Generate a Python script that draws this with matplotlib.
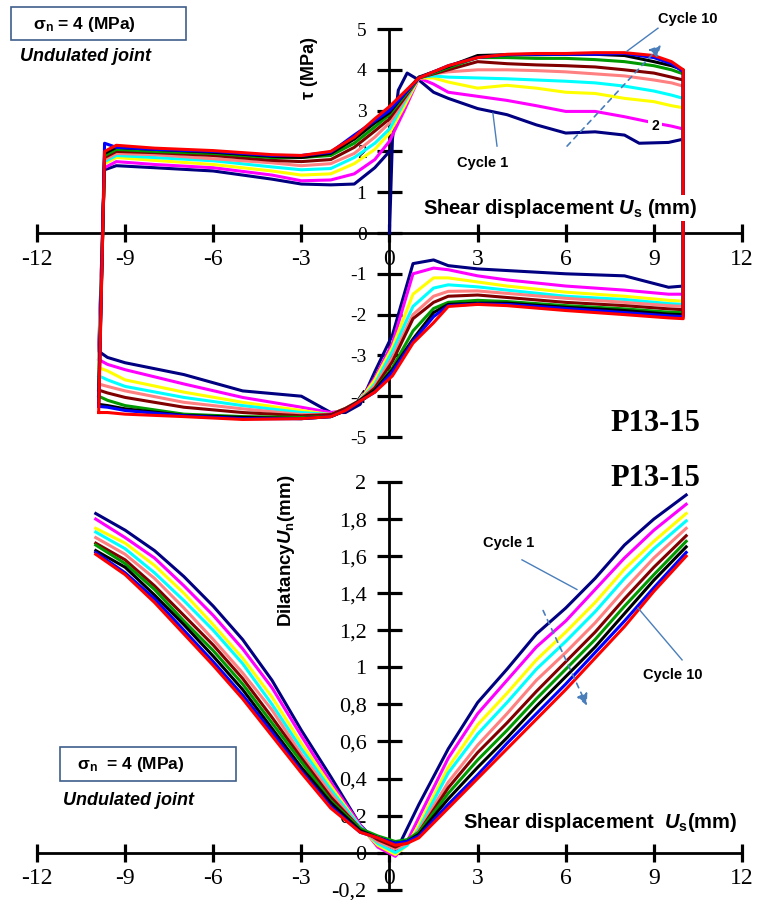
import matplotlib
matplotlib.use('Agg')
import matplotlib.pyplot as plt
from matplotlib.patches import Rectangle
from matplotlib.ticker import FuncFormatter

plt.rcParams['axes.unicode_minus'] = False
plt.rcParams['font.family'] = 'Liberation Serif'
plt.rcParams['mathtext.fontset'] = 'custom'
plt.rcParams['mathtext.it'] = 'Liberation Sans:bold:italic'
plt.rcParams['mathtext.rm'] = 'Liberation Sans:bold'

# cycle colours (cycle 1 .. cycle 10)
colors = ['#000080', '#FF00FF', '#FFFF00', '#00FFFF', '#FF8080',
          '#800000', '#009900', '#000000', '#0000FF', '#FF0000']

# ---- shear stress, first loading of cycle 1 (from origin)
first_x = [0, 0.1, 0.3, 0.6, 1, 1.5, 2, 3, 4, 5, 6, 7, 8, 8.5, 9.5, 10]
first_y = [0, 2.3, 3.5, 3.92, 3.75, 3.45, 3.3, 3.05, 2.9, 2.65, 2.45, 2.48, 2.4, 2.2, 2.22, 2.3]

# ---- shear stress, forward branch (tau > 0)
up_x = [-9.7, -9.3, -8, -6, -4, -3, -2, -1.2, -0.5, 0, 0.5, 1, 1.5, 2, 3, 4, 5, 6, 7, 8, 9, 9.6, 10]
tau_up = [
    [1.55, 1.65, 1.6, 1.52, 1.32, 1.2, 1.18, 1.2, 1.6, 2.0],
    [1.6, 1.75, 1.68, 1.6, 1.42, 1.28, 1.3, 1.45, 1.8, 2.25, 3.0, 3.8, 3.65, 3.45, 3.35, 3.25, 3.12, 2.98, 2.98, 2.85, 2.7, 2.62, 2.55],
    [1.7, 1.85, 1.78, 1.68, 1.52, 1.42, 1.45, 1.7, 2.05, 2.45, 3.1, 3.8, 3.8, 3.7, 3.55, 3.62, 3.55, 3.45, 3.42, 3.3, 3.22, 3.12, 3.07],
    [1.75, 1.9, 1.85, 1.77, 1.62, 1.55, 1.58, 1.85, 2.2, 2.55, 3.2, 3.82, 3.85, 3.82, 3.8, 3.78, 3.75, 3.72, 3.68, 3.6, 3.48, 3.38, 3.3],
    [1.8, 1.95, 1.92, 1.82, 1.72, 1.65, 1.7, 1.95, 2.35, 2.7, 3.25, 3.82, 3.9, 3.95, 4.0, 4.0, 3.98, 3.95, 3.9, 3.85, 3.75, 3.68, 3.6],
    [1.85, 2.0, 1.97, 1.9, 1.78, 1.75, 1.8, 2.1, 2.5, 2.8, 3.3, 3.8, 3.9, 4.0, 4.2, 4.15, 4.12, 4.1, 4.07, 4.0, 3.92, 3.82, 3.75],
    [1.9, 2.05, 2.0, 1.95, 1.85, 1.85, 1.9, 2.2, 2.6, 2.9, 3.35, 3.8, 3.92, 4.05, 4.3, 4.3, 4.28, 4.28, 4.25, 4.2, 4.1, 4.0, 3.9],
    [1.95, 2.1, 2.05, 1.98, 1.88, 1.85, 1.95, 2.3, 2.7, 2.95, 3.4, 3.82, 3.95, 4.08, 4.35, 4.37, 4.37, 4.38, 4.38, 4.35, 4.2, 4.1, 4.0],
    [2.2, 2.1, 2.05, 2.0, 1.9, 1.9, 1.98, 2.4, 2.75, 3.0, 3.4, 3.8, 3.95, 4.1, 4.3, 4.37, 4.38, 4.38, 4.38, 4.4, 4.3, 4.15, 3.95],
    [2.0, 2.15, 2.08, 2.02, 1.92, 1.9, 2.0, 2.35, 2.8, 3.1, 3.45, 3.8, 3.95, 4.1, 4.3, 4.38, 4.4, 4.4, 4.42, 4.42, 4.35, 4.2, 4.0],
]

# ---- shear stress, backward branch (tau < 0), read from +10 to -10
low_x = [10, 9.5, 8, 6, 4, 3, 2, 1.5, 0.8, 0.1, -0.5, -1, -1.5, -2, -3, -5, -7, -9, -9.6, -9.9]
tau_low = [
    [-1.3, -1.33, -1.05, -1.0, -0.92, -0.88, -0.8, -0.66, -0.75, -2.5, -3.4, -4.2, -4.4, -4.4, -4.0, -3.87, -3.47, -3.18, -3.05, -2.9],
    [-1.5, -1.5, -1.4, -1.3, -1.15, -1.05, -0.9, -0.86, -1.0, -2.7, -3.55, -4.1, -4.35, -4.4, -4.27, -4.03, -3.7, -3.35, -3.22, -3.1],
    [-1.67, -1.65, -1.55, -1.45, -1.3, -1.2, -1.1, -1.1, -1.5, -2.8, -3.6, -4.1, -4.3, -4.45, -4.35, -4.15, -3.9, -3.6, -3.38, -3.3],
    [-1.75, -1.73, -1.63, -1.55, -1.4, -1.32, -1.27, -1.35, -1.8, -2.9, -3.7, -4.1, -4.3, -4.45, -4.4, -4.23, -4.03, -3.76, -3.6, -3.5],
    [-1.8, -1.78, -1.7, -1.6, -1.48, -1.42, -1.43, -1.55, -2.0, -3.05, -3.75, -4.1, -4.3, -4.45, -4.45, -4.31, -4.15, -3.87, -3.76, -3.7],
    [-1.88, -1.86, -1.78, -1.7, -1.58, -1.52, -1.55, -1.7, -2.1, -3.15, -3.8, -4.1, -4.3, -4.45, -4.48, -4.4, -4.27, -4.03, -3.92, -3.85],
    [-1.95, -1.94, -1.86, -1.78, -1.68, -1.65, -1.7, -1.85, -2.4, -3.3, -3.85, -4.1, -4.35, -4.5, -4.52, -4.5, -4.44, -4.23, -4.1, -4.0],
    [-2.0, -1.99, -1.9, -1.82, -1.72, -1.72, -1.75, -1.95, -2.6, -3.35, -3.85, -4.1, -4.35, -4.5, -4.55, -4.52, -4.47, -4.31, -4.23, -4.2],
    [-2.05, -2.03, -1.95, -1.85, -1.75, -1.74, -1.78, -2.05, -2.65, -3.4, -3.9, -4.12, -4.35, -4.5, -4.55, -4.55, -4.48, -4.35, -4.27, -4.25],
    [-2.1, -2.08, -2.0, -1.9, -1.78, -1.75, -1.8, -2.2, -2.7, -3.5, -3.9, -4.12, -4.35, -4.5, -4.55, -4.57, -4.5, -4.44, -4.4, -4.4],
]

# ---- dilatancy
dil_x = [-10, -9, -8, -7, -6, -5, -4, -3, -2, -1, -0.4, 0.2, 0.6, 1, 2, 3, 4, 5, 6, 7, 8, 9, 10.1]
dil_y = [
    [1.83, 1.74, 1.63, 1.49, 1.33, 1.15, 0.93, 0.66, 0.41, 0.15, 0.05, 0.0, 0.13, 0.26, 0.56, 0.81, 0.99, 1.18, 1.32, 1.48, 1.66, 1.80, 1.93],
    [1.80, 1.70, 1.59, 1.44, 1.28, 1.10, 0.89, 0.63, 0.38, 0.15, 0.03, -0.02, 0.06, 0.19, 0.51, 0.75, 0.93, 1.11, 1.25, 1.42, 1.59, 1.74, 1.88],
    [1.75, 1.67, 1.55, 1.40, 1.23, 1.05, 0.84, 0.59, 0.36, 0.14, 0.04, -0.01, 0.04, 0.15, 0.46, 0.69, 0.86, 1.04, 1.19, 1.35, 1.53, 1.68, 1.83],
    [1.73, 1.64, 1.51, 1.36, 1.20, 1.02, 0.80, 0.56, 0.34, 0.14, 0.05, 0.0, 0.04, 0.13, 0.43, 0.64, 0.81, 0.99, 1.14, 1.30, 1.48, 1.64, 1.79],
    [1.70, 1.61, 1.48, 1.32, 1.15, 0.97, 0.77, 0.53, 0.32, 0.13, 0.06, 0.02, 0.05, 0.12, 0.38, 0.58, 0.75, 0.93, 1.08, 1.24, 1.42, 1.59, 1.75],
    [1.67, 1.58, 1.44, 1.28, 1.12, 0.94, 0.73, 0.51, 0.30, 0.13, 0.07, 0.03, 0.06, 0.11, 0.35, 0.54, 0.70, 0.87, 1.03, 1.19, 1.37, 1.54, 1.71],
    [1.66, 1.56, 1.42, 1.25, 1.09, 0.91, 0.70, 0.49, 0.28, 0.13, 0.09, 0.06, 0.07, 0.11, 0.32, 0.50, 0.66, 0.83, 0.99, 1.15, 1.33, 1.50, 1.68],
    [1.63, 1.54, 1.39, 1.23, 1.06, 0.88, 0.67, 0.46, 0.27, 0.12, 0.08, 0.05, 0.06, 0.10, 0.29, 0.46, 0.62, 0.79, 0.95, 1.11, 1.29, 1.47, 1.65],
    [1.62, 1.51, 1.37, 1.20, 1.03, 0.85, 0.65, 0.44, 0.25, 0.11, 0.08, 0.05, 0.06, 0.09, 0.26, 0.42, 0.59, 0.75, 0.91, 1.08, 1.25, 1.43, 1.62],
    [1.61, 1.50, 1.35, 1.18, 1.01, 0.83, 0.63, 0.43, 0.24, 0.11, 0.08, 0.04, 0.05, 0.08, 0.24, 0.40, 0.56, 0.72, 0.88, 1.05, 1.22, 1.41, 1.60],
]

x_ticks = [-12, -9, -6, -3, 0, 3, 6, 9, 12]
tau_ticks = [-5, -4, -3, -2, -1, 0, 1, 2, 3, 4, 5]
dil_ticks = [-0.2, 0, 0.2, 0.4, 0.6, 0.8, 1, 1.2, 1.4, 1.6, 1.8, 2]

arrow_col = '#4A7EBB'
sans = 'Liberation Sans'

fig = plt.figure(figsize=(7.61, 9.0), dpi=100)
ax1 = fig.add_axes([0.04862, 0.51444, 0.92641, 0.45333])
ax2 = fig.add_axes([0.04862, 0.01144, 0.92641, 0.45300])


def cross_axes(ax, ysize):
    ax.spines['top'].set_visible(False)
    ax.spines['right'].set_visible(False)
    ax.spines['left'].set_position(('data', 0))
    ax.spines['bottom'].set_position(('data', 0))
    ax.spines['left'].set_linewidth(2.0)
    ax.spines['bottom'].set_linewidth(2.0)
    ax.spines['left'].set_zorder(1)
    ax.spines['bottom'].set_zorder(1)
    ax.tick_params(axis='x', direction='inout', length=12.5, width=2.3, pad=5, labelsize=17)
    ax.tick_params(axis='y', direction='inout', length=18, width=2.3, pad=7.5, labelsize=ysize)
    ax.set_xlim(-12, 12)
    ax.set_xticks(x_ticks)
    ax.patch.set_visible(False)


# ---------------- top: shear stress loops
cross_axes(ax1, 14)
ax1.set_ylim(-5, 5)
ax1.set_yticks(tau_ticks)

for i in range(10):
    up = tau_up[i]
    low = tau_low[i]
    if i == 0:
        xs = first_x + low_x + up_x[:len(up)]
        ys = first_y + low + up
    else:
        xs = [low_x[-1]] + up_x + low_x
        ys = [low[-1]] + up + low
    ax1.plot(xs, ys, color=colors[i], lw=2.2, zorder=2)

ax1.text(-2.71, 4.04, 'τ (MPa)', rotation=90, ha='center', va='center',
         family=sans, weight='bold', size=13)
ax1.text(1.14, 0.61, r'Shear displacement $U_{\rm s}$ (mm)', ha='left', va='center',
         family=sans, weight='bold', size=14.5, zorder=5,
         bbox=dict(facecolor='white', edgecolor='none', pad=1))
ax1.text(9.04, -4.68, 'P13-15', ha='center', va='center', weight='bold', size=22)

ax1.text(10.16, 5.25, 'Cycle 10', ha='center', va='center', family=sans,
         weight='bold', size=10.5, clip_on=False)
ax1.plot([8.09, 9.14], [4.46, 5.02], color=arrow_col, lw=1, clip_on=False, zorder=4)
ax1.annotate('', xy=(9.31, 4.66), xytext=(5.98, 2.08),
             arrowprops=dict(arrowstyle='-|>', color=arrow_col, lw=1.2,
                             linestyle=(0, (3, 3)), mutation_scale=17), zorder=4)
ax1.text(3.18, 1.72, 'Cycle 1', ha='center', va='center', family=sans,
         weight='bold', size=10.5)
ax1.plot([3.66, 3.52], [2.13, 2.94], color=arrow_col, lw=1, zorder=4)
ax1.text(9.04, 2.62, '2', ha='center', va='center', family=sans, weight='bold',
         size=10, zorder=5, bbox=dict(facecolor='white', edgecolor='none', pad=2))

# ---------------- bottom: dilatancy
cross_axes(ax2, 16)
ax2.set_ylim(-0.2, 2)
ax2.set_yticks(dil_ticks)
ax2.yaxis.set_major_formatter(FuncFormatter(lambda v, p: ('%g' % round(v, 1)).replace('.', ',')))

for i in range(10):
    ax2.plot(dil_x, dil_y[i], color=colors[i], lw=2.2, zorder=2)

ax2.text(9.04, 2.02, 'P13-15', ha='center', va='center', weight='bold', size=22)
ax2.text(-3.49, 1.63, r'Dilatancy$U_{\rm n}$(mm)', rotation=90, ha='center', va='center',
         family=sans, weight='bold', size=13.5)
ax2.text(2.5, 0.165, r'Shear displacement  $U_{\rm s}$(mm)', ha='left', va='center',
         family=sans, weight='bold', size=14.5, zorder=5,
         bbox=dict(facecolor='white', edgecolor='none', pad=1))
ax2.text(4.04, 1.67, 'Cycle 1', ha='center', va='center', family=sans,
         weight='bold', size=10.5)
ax2.plot([4.51, 6.38], [1.58, 1.42], color=arrow_col, lw=1, zorder=4)
ax2.text(9.65, 0.96, 'Cycle 10', ha='center', va='center', family=sans,
         weight='bold', size=10.5)
ax2.plot([8.46, 9.96], [1.32, 1.04], color=arrow_col, lw=1, zorder=4)
ax2.annotate('', xy=(6.76, 0.78), xytext=(5.19, 1.32),
             arrowprops=dict(arrowstyle='-|>', color=arrow_col, lw=1.2,
                             linestyle=(0, (3, 3)), mutation_scale=17), zorder=4)

# ---------------- boxes with test conditions
box_col = '#3E5F8A'
fig.add_artist(Rectangle((0.01445, 0.95556), 0.22996, 0.03667, transform=fig.transFigure,
                         facecolor='white', edgecolor=box_col, lw=1.2))
fig.text(0.0434, 0.9733, r'σ$_{\rm n}$ = 4 (MPa)', ha='left', va='center',
         family=sans, weight='bold', size=12.5)
fig.text(0.0263, 0.9367, 'Undulated joint', ha='left', va='center',
         family=sans, weight='bold', style='italic', size=13)

fig.add_artist(Rectangle((0.07884, 0.13222), 0.23127, 0.03778, transform=fig.transFigure,
                         facecolor='white', edgecolor=box_col, lw=1.2))
fig.text(0.1012, 0.15, r'σ$_{\rm n}$  = 4 (MPa)', ha='left', va='center',
         family=sans, weight='bold', size=12.5)
fig.text(0.0828, 0.1111, 'Undulated joint', ha='left', va='center',
         family=sans, weight='bold', style='italic', size=13)

fig.savefig('out.png', dpi=100, facecolor='white')
